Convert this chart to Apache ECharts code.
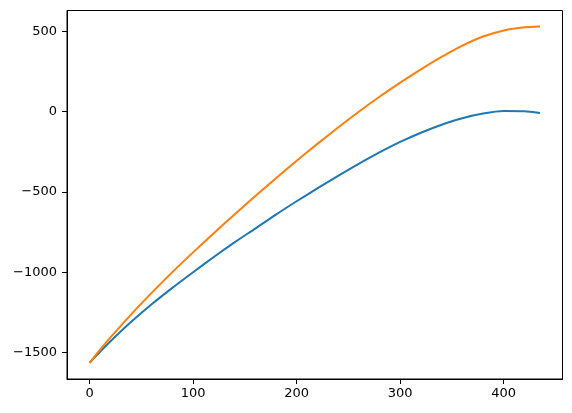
<!DOCTYPE html>
<html>
<head>
<meta charset="utf-8">
<script src="https://cdn.jsdelivr.net/npm/echarts@6/dist/echarts.min.js"></script>
<style>
html,body{margin:0;padding:0;background:#fff;}
#chart{width:572px;height:413px;}
</style>
</head>
<body>
<div id="chart"></div>
<script>
var xValues = [0, 5, 10, 20, 40, 60, 80, 100, 120, 140, 160, 180, 200, 220, 240, 260, 280, 300, 320, 340, 360, 380, 400, 420, 435];
var blueValues = [-1564, -1529, -1496, -1431, -1310, -1199, -1097, -1000, -905, -814, -728, -641, -558, -478, -400, -325, -254, -189, -132, -82, -41, -12, 3.5, 2.6, -9];
var orangeValues = [-1564, -1523, -1483, -1407, -1263, -1128, -999, -876, -757, -640, -526, -415, -306, -201, -99, -1, 92, 180, 263, 340, 410, 467, 505, 525, 530];
var xTicks = [0, 100, 200, 300, 400];
var yTicks = [-1500, -1000, -500, 0, 500];

function pairs(ys){ return xValues.map(function(x,i){ return [x, ys[i]]; }); }
function fmt(v){ return String(v).replace('-', '\u2212'); }

var chart = echarts.init(document.getElementById('chart'), null, {renderer:'canvas'});
var font = 'DejaVu Sans';
chart.setOption({
  animation:false,
  backgroundColor:'#fff',
  grid:{left:67, right:9.5, top:10.5, bottom:34, show:true, borderColor:'#000', borderWidth:1, backgroundColor:'transparent'},
  xAxis:{
    type:'value', min:-21.75, max:456.75,
    splitLine:{show:false},
    axisLine:{show:true, onZero:false, lineStyle:{color:'#000', width:1}},
    axisTick:{show:true, length:5, inside:false, customValues:xTicks, lineStyle:{color:'#000'}},
    axisLabel:{customValues:xTicks, color:'#000', fontFamily:font, fontSize:13, margin:8, formatter:fmt}
  },
  yAxis:{
    type:'value', min:-1664, max:629,
    splitLine:{show:false},
    axisLine:{show:true, onZero:false, lineStyle:{color:'#000', width:1}},
    axisTick:{show:true, length:5, inside:false, customValues:yTicks, lineStyle:{color:'#000'}},
    axisLabel:{customValues:yTicks, color:'#000', fontFamily:font, fontSize:13, margin:10, formatter:fmt}
  },
  series:[
    {type:'line', data:pairs(blueValues), showSymbol:false, smooth:0.25, lineStyle:{color:'#1f77b4', width:2}, itemStyle:{color:'#1f77b4'}},
    {type:'line', data:pairs(orangeValues), showSymbol:false, smooth:0.25, lineStyle:{color:'#ff7f0e', width:2}, itemStyle:{color:'#ff7f0e'}}
  ]
});
</script>
</body>
</html>
